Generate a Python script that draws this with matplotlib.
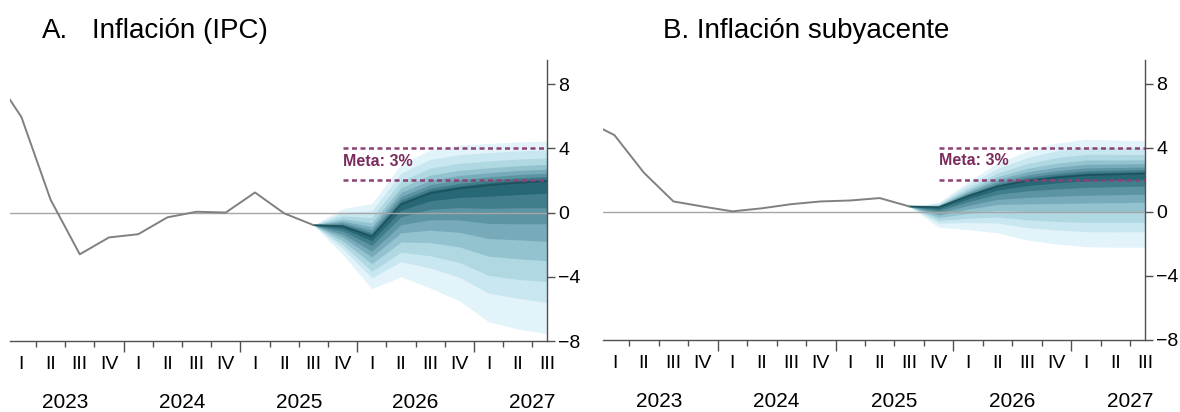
import matplotlib
import matplotlib.pyplot as plt
import matplotlib.transforms as mtransforms
import numpy as np

matplotlib.use("Agg")
plt.rcParams["font.family"] = ["Liberation Sans", "DejaVu Sans"]

# quarterly axis 2023Q1 .. 2027Q3
quarter_labels = ["I", "II", "III", "IV"] * 4 + ["I", "II", "III"]
year_labels = ["2023", "2024", "2025", "2026", "2027"]

# observed series, 2022Q4 .. 2025Q3
ipc_hist = [8.7, 5.95, 0.8, -2.6, -1.55, -1.35, -0.3, 0.05, 0.0, 1.25, -0.05, -0.78]
sub_hist = [5.75, 4.8, 2.45, 0.66, 0.34, 0.04, 0.23, 0.49, 0.66, 0.72, 0.87, 0.35]

# forecast fans, 2025Q3 .. 2027Q3 (bands from outer to inner)
ipc_median = [-0.78, -0.85, -1.5, 0.5, 1.2, 1.5, 1.7, 1.85, 1.95]
ipc_hi = [
    [-0.78, 0.25, 0.55, 3.0, 3.9, 4.2, 4.3, 4.4, 4.45],
    [-0.78, 0.01, 0.1, 2.45, 3.31, 3.61, 3.73, 3.84, 3.9],
    [-0.78, -0.21, -0.31, 1.95, 2.77, 3.07, 3.21, 3.33, 3.4],
    [-0.78, -0.39, -0.64, 1.55, 2.33, 2.63, 2.79, 2.92, 3.0],
    [-0.78, -0.52, -0.89, 1.25, 2.01, 2.31, 2.48, 2.62, 2.7],
    [-0.78, -0.63, -1.09, 1.0, 1.74, 2.04, 2.22, 2.36, 2.45],
    [-0.78, -0.72, -1.25, 0.8, 1.52, 1.82, 2.01, 2.16, 2.25],
    [-0.78, -0.78, -1.38, 0.65, 1.36, 1.66, 1.86, 2.0, 2.1],
]
ipc_lo = [
    [-0.78, -2.6, -4.75, -4.0, -4.7, -5.5, -6.8, -7.25, -7.55],
    [-0.78, -2.23, -4.07, -3.06, -3.46, -4.03, -5.02, -5.34, -5.6],
    [-0.78, -2.0, -3.65, -2.47, -2.69, -3.12, -3.91, -4.16, -4.3],
    [-0.78, -1.76, -3.19, -1.84, -1.87, -2.14, -2.72, -2.88, -3.0],
    [-0.78, -1.53, -2.77, -1.26, -1.1, -1.23, -1.62, -1.7, -1.8],
    [-0.78, -1.34, -2.41, -0.76, -0.45, -0.46, -0.68, -0.7, -0.7],
    [-0.78, -1.15, -2.05, -0.27, 0.2, 0.31, 0.26, 0.3, 0.3],
    [-0.78, -0.99, -1.76, 0.14, 0.73, 0.94, 1.02, 1.12, 1.2],
]

sub_median = [0.35, 0.3, 1.0, 1.6, 1.95, 2.15, 2.3, 2.35, 2.4]
sub_hi = [
    [0.35, 0.6, 1.9, 3.05, 3.8, 4.3, 4.55, 4.5, 4.45],
    [0.35, 0.53, 1.7, 2.73, 3.39, 3.83, 4.06, 4.03, 4.0],
    [0.35, 0.47, 1.52, 2.44, 3.02, 3.4, 3.61, 3.6, 3.59],
    [0.35, 0.43, 1.38, 2.21, 2.73, 3.05, 3.25, 3.25, 3.26],
    [0.35, 0.39, 1.27, 2.04, 2.51, 2.8, 2.98, 3.0, 3.02],
    [0.35, 0.36, 1.18, 1.89, 2.32, 2.58, 2.75, 2.78, 2.81],
    [0.35, 0.34, 1.11, 1.77, 2.17, 2.41, 2.57, 2.61, 2.65],
    [0.35, 0.32, 1.05, 1.69, 2.06, 2.28, 2.44, 2.48, 2.52],
]
sub_lo = [
    [0.35, -0.95, -1.1, -1.3, -1.75, -2.0, -2.17, -2.2, -2.2],
    [0.35, -0.69, -0.66, -0.69, -0.97, -1.13, -1.23, -1.24, -1.23],
    [0.35, -0.53, -0.39, -0.31, -0.49, -0.59, -0.65, -0.65, -0.64],
    [0.35, -0.35, -0.09, 0.09, 0.03, -0.01, -0.02, -0.02, 0.01],
    [0.35, -0.19, 0.18, 0.47, 0.51, 0.53, 0.56, 0.58, 0.61],
    [0.35, -0.05, 0.41, 0.79, 0.91, 0.99, 1.05, 1.08, 1.11],
    [0.35, 0.09, 0.64, 1.11, 1.32, 1.44, 1.54, 1.58, 1.62],
    [0.35, 0.2, 0.83, 1.37, 1.65, 1.82, 1.94, 1.99, 2.03],
]

target_band = [2, 4]
target_text = "Meta: 3%"

band_colors = ["#e2f3fa", "#c9e7f0", "#b0d8e3", "#94c3d0", "#78abb9",
               "#5c94a2", "#417d8b", "#286775"]


def draw_panel(ax, hist, median, hi, lo):
    n_q = len(quarter_labels)
    hist_x = np.arange(len(hist)) - 1
    fan_x = np.arange(len(median)) + hist_x[-1]

    for k in range(len(hi)):
        ax.fill_between(fan_x, lo[k], hi[k], color=band_colors[k], lw=0, zorder=1)
    ax.plot(fan_x, median, color="#1c525c", lw=1.2, zorder=2)

    ax.axhline(0, color="#a6a6a6", lw=1.0, zorder=3)
    ax.plot(hist_x, hist, color="#808080", lw=1.4, zorder=4)

    for yv in target_band:
        ax.plot([fan_x[1], n_q - 1], [yv, yv], color="#8c4274", lw=1.8,
                dashes=(2.0, 1.4), zorder=5)
    ax.text(fan_x[1], np.mean(target_band) + 0.2, target_text, color="#7a2a5c",
            fontsize=11.5, fontweight="bold", ha="left", va="center", zorder=6)

    ax.set_xlim(-0.39, n_q - 1)
    ax.set_ylim(-8, 9.5)

    for side in ["left", "top"]:
        ax.spines[side].set_visible(False)
    for side in ["right", "bottom"]:
        ax.spines[side].set_color("#505050")
        ax.spines[side].set_linewidth(1.0)

    ax.yaxis.tick_right()
    ax.set_yticks([-8, -4, 0, 4, 8])
    ax.tick_params(axis="y", direction="out", length=6, width=1.0,
                   colors="#505050", labelcolor="black", labelsize=14, pad=2)

    bounds = np.arange(n_q - 1) + 0.5
    year_bounds = bounds[3::4]
    ax.set_xticks(year_bounds)
    ax.set_xticks(bounds, minor=True)
    ax.set_xticklabels([])
    ax.tick_params(axis="x", which="major", direction="out", length=8,
                   width=1.0, colors="#505050")
    ax.tick_params(axis="x", which="minor", direction="out", length=4,
                   width=1.0, colors="#505050")

    trans = mtransforms.blended_transform_factory(ax.transData, ax.transAxes)
    for i, lab in enumerate(quarter_labels):
        ax.text(i, -0.085, lab, transform=trans, ha="center", va="center",
                fontsize=14, clip_on=False)
    for j, yr in enumerate(year_labels):
        ax.text(4 * j + 1.5, -0.22, yr, transform=trans, ha="center",
                va="center", fontsize=15, clip_on=False)


fig = plt.figure(figsize=(11.8, 4.12), dpi=100)
ax1 = fig.add_axes([10 / 1180, 71 / 412, 537 / 1180, 281 / 412])
ax2 = fig.add_axes([603 / 1180, 72 / 412, 542 / 1180, 280 / 412])

draw_panel(ax1, ipc_hist, ipc_median, ipc_hi, ipc_lo)
draw_panel(ax2, sub_hist, sub_median, sub_hi, sub_lo)

fig.text(42 / 1180, 1 - 31 / 412, "A.", fontsize=20, ha="left", va="center")
fig.text(92 / 1180, 1 - 31 / 412, "Inflación (IPC)", fontsize=20, ha="left", va="center")
fig.text(663 / 1180, 1 - 31 / 412, "B. Inflación subyacente", fontsize=20,
         ha="left", va="center")

fig.savefig("out.png", dpi=100)
plt.close(fig)
